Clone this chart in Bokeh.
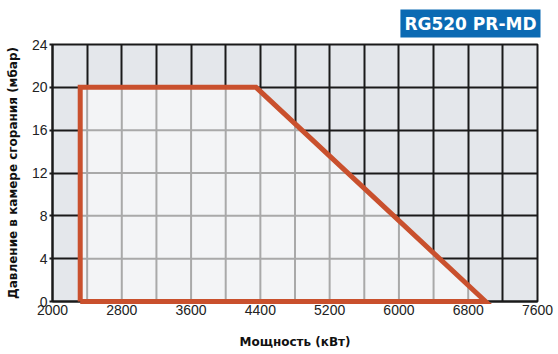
import numpy as np
from bokeh.plotting import figure
from bokeh.models import Range1d, FixedTicker
from bokeh.embed import file_html
from bokeh.resources import INLINE

# Data
env_x = [2320, 2320, 4350, 7000, 2320]
env_y = [0, 20, 20, 0, 0]
x_tick_labels = [2000, 2800, 3600, 4400, 5200, 6000, 6800, 7600]
x_grid = list(range(2000, 7601, 400))
y_ticks = [0, 4, 8, 12, 16, 20, 24]
title_text = "RG520 PR-MD"
x_label = "Мощность (кВт)"
y_label = "Давление в камере сгорания (мбар)"

OUT_BG = "#e4e7eb"
IN_BG = "#f3f4f6"
RED = "#c9502d"
BLUE = "#0b6ab3"

p = figure(frame_width=485, frame_height=257, min_border_left=52, min_border_right=20,
           min_border_top=44, min_border_bottom=52,
           x_range=Range1d(2000, 7600), y_range=Range1d(0, 24),
           output_backend="svg", toolbar_location=None)
p.background_fill_color = OUT_BG
p.border_fill_color = "white"
p.outline_line_color = "#1a1a1a"
p.outline_line_width = 2

p.title.text = title_text
p.title.align = "right"
p.title.text_color = "white"
p.title.text_font = "DejaVu Sans"
p.title.text_font_style = "bold"
p.title.text_font_size = "17px"
p.title.background_fill_color = BLUE
p.title.padding = 4
p.title.standoff = 14
p.title.offset = -3

p.xaxis.ticker = FixedTicker(ticks=x_tick_labels)
p.yaxis.ticker = FixedTicker(ticks=y_ticks)
p.xgrid.ticker = FixedTicker(ticks=x_grid)
p.ygrid.ticker = FixedTicker(ticks=y_ticks)
for g in (p.xgrid, p.ygrid):
    g.grid_line_color = "#1a1a1a"
    g.grid_line_width = 2
    g.grid_line_alpha = 1

for ax in (p.xaxis, p.yaxis):
    ax.axis_line_color = "#1a1a1a"
    ax.axis_line_width = 2
    ax.major_tick_line_color = "#1a1a1a"
    ax.major_tick_line_width = 2
    ax.minor_tick_line_color = None
    ax.major_label_text_font = "Liberation Sans"
    ax.major_label_text_font_size = "14px"
    ax.major_label_text_color = "#222222"
    ax.axis_label_text_font = "DejaVu Sans"
    ax.axis_label_text_font_style = "bold"
    ax.axis_label_text_font_size = "12px"
    ax.axis_label_text_color = "#111111"

p.xaxis.major_tick_out = 0
p.xaxis.major_tick_in = 0
p.xaxis.major_label_standoff = 3
p.xaxis.axis_label = x_label
p.xaxis.axis_label_standoff = 17
p.yaxis.major_tick_out = 3
p.yaxis.major_tick_in = 0
p.yaxis.major_label_standoff = 2
p.yaxis.axis_label = y_label
p.yaxis.axis_label_standoff = 9

# envelope fill
p.patch(env_x[:-1], env_y[:-1], fill_color=IN_BG, line_color=None)

# grey grid lines inside the envelope
x_left, x_knee, x_end = env_x[1], env_x[2], env_x[3]
y_top = env_y[1]

def top_at(x):
    return y_top if x <= x_knee else y_top * (x_end - x) / (x_end - x_knee)

def right_at(y):
    return x_end - y / y_top * (x_end - x_knee)

vx = [x for x in x_grid if x_left < x < x_end]
p.segment(x0=vx, y0=[0] * len(vx), x1=vx, y1=[top_at(x) for x in vx],
          line_color="#a9a9a9", line_width=2)
hy = [y for y in y_ticks if 0 < y < y_top]
p.segment(x0=[x_left] * len(hy), y0=hy, x1=[right_at(y) for y in hy], y1=hy,
          line_color="#a9a9a9", line_width=2)

# envelope outline
p.line(env_x, env_y, line_color=RED, line_width=5, line_join="miter", level="overlay")

open("out.html", "w").write(file_html(p, INLINE))
